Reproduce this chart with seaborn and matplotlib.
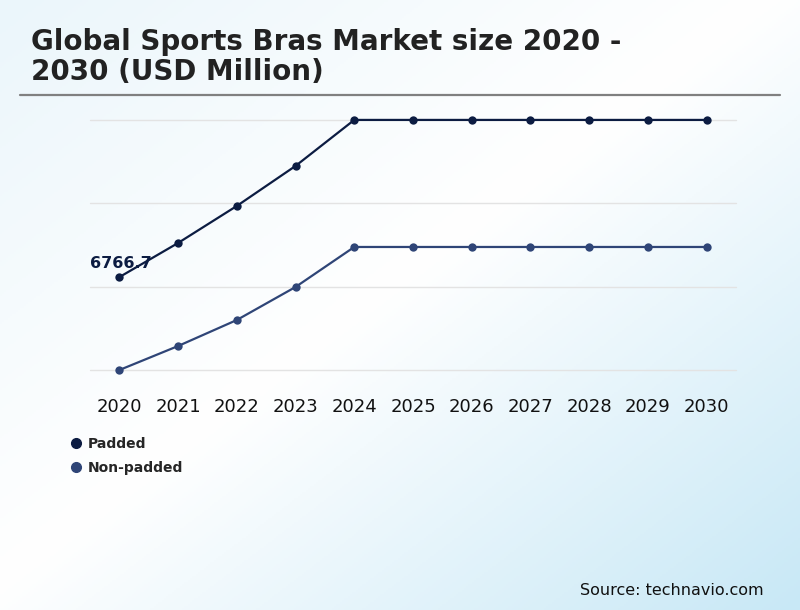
import numpy as np
import pandas as pd
import matplotlib
matplotlib.use("Agg")
import matplotlib.pyplot as plt
from matplotlib.colors import LinearSegmentedColormap
from matplotlib.lines import Line2D
import seaborn as sns

# data (USD Million)
years = ["2020", "2021", "2022", "2023", "2024", "2025", "2026", "2027", "2028", "2029", "2030"]
padded = [6766.7, 7790, 8900, 10100, 11480, 11480, 11480, 11480, 11480, 11480, 11480]
non_padded = [3980, 4700, 5480, 6470, 7670, 7670, 7670, 7670, 7670, 7670, 7670]
series_names = ["Padded", "Non-padded"]
colors = ["#0c1c42", "#2f4577"]

df = pd.DataFrame({
    "year": years * 2,
    "value": padded + non_padded,
    "segment": [series_names[0]] * len(years) + [series_names[1]] * len(years),
})

sns.set_theme(style="white")
plt.rcParams["font.family"] = ["DejaVu Sans"]

fig = plt.figure(figsize=(8, 6.1), dpi=100)

# gradient background
bg = fig.add_axes([0, 0, 1, 1], zorder=-10)
xx, yy = np.meshgrid(np.linspace(0, 1, 400), np.linspace(0, 1, 305))
t = (xx + yy) / 2
cmap = LinearSegmentedColormap.from_list(
    "bg", [(0, "#ebf6fb"), (0.48, "#ffffff"), (1, "#c8e8f6")])
bg.imshow(t, cmap=cmap, aspect="auto", extent=[0, 1, 0, 1], origin="upper")
bg.set_axis_off()

ax = fig.add_axes([0.1125, 0.3934, 0.8075, 0.41])
ax.set_facecolor("none")

sns.lineplot(data=df, x="year", y="value", hue="segment", palette=colors,
             marker="o", markersize=6, markeredgewidth=0, linewidth=1.6,
             sort=False, legend=False, ax=ax, clip_on=False)

lo = min(non_padded)
hi = max(padded)
ax.set_ylim(lo, hi)
ax.set_xlim(-0.5, len(years) - 0.5)
ax.set_yticks(np.linspace(lo, hi, 4))
ax.yaxis.grid(True, color="#e3e3e3", linewidth=1)
for gl in ax.get_ygridlines():
    gl.set_clip_on(False)
ax.set_axisbelow(True)
ax.tick_params(axis="y", left=False, labelleft=False)
ax.tick_params(axis="x", bottom=False, labelsize=13, pad=14, labelcolor="#111111")
ax.set_xlabel("")
ax.set_ylabel("")
sns.despine(ax=ax, left=True, bottom=True)

ax.annotate(f"{padded[0]:.1f}", xy=(0, padded[0]), xytext=(-21.5, 6.5),
            textcoords="offset points", ha="left", va="baseline",
            fontsize=11.5, fontweight="bold", color=colors[0])

# title + rule
fig.text(0.039, 0.869, "Global Sports Bras Market size 2020 -\n2030 (USD Million)",
         fontsize=20, fontweight="bold", color="#222222", ha="left", va="baseline",
         linespacing=1.1)
fig.add_artist(Line2D([0.025, 0.975], [0.844, 0.844], color="#808080", linewidth=1.6))

handles = [Line2D([], [], linestyle="none", marker="o", markersize=7,
                  color=c) for c in colors]
fig.legend(handles, series_names, loc="upper left", bbox_to_anchor=(0.0875, 0.284),
           frameon=False, borderpad=0, borderaxespad=0, handlelength=0.8,
           handletextpad=0.5, labelspacing=0.75,
           prop={"weight": "bold", "size": 10})

fig.text(0.954, 0.025, "Source: technavio.com", fontsize=11.5, color="#111111",
         ha="right", va="baseline")

fig.savefig("out.png", dpi=100)
